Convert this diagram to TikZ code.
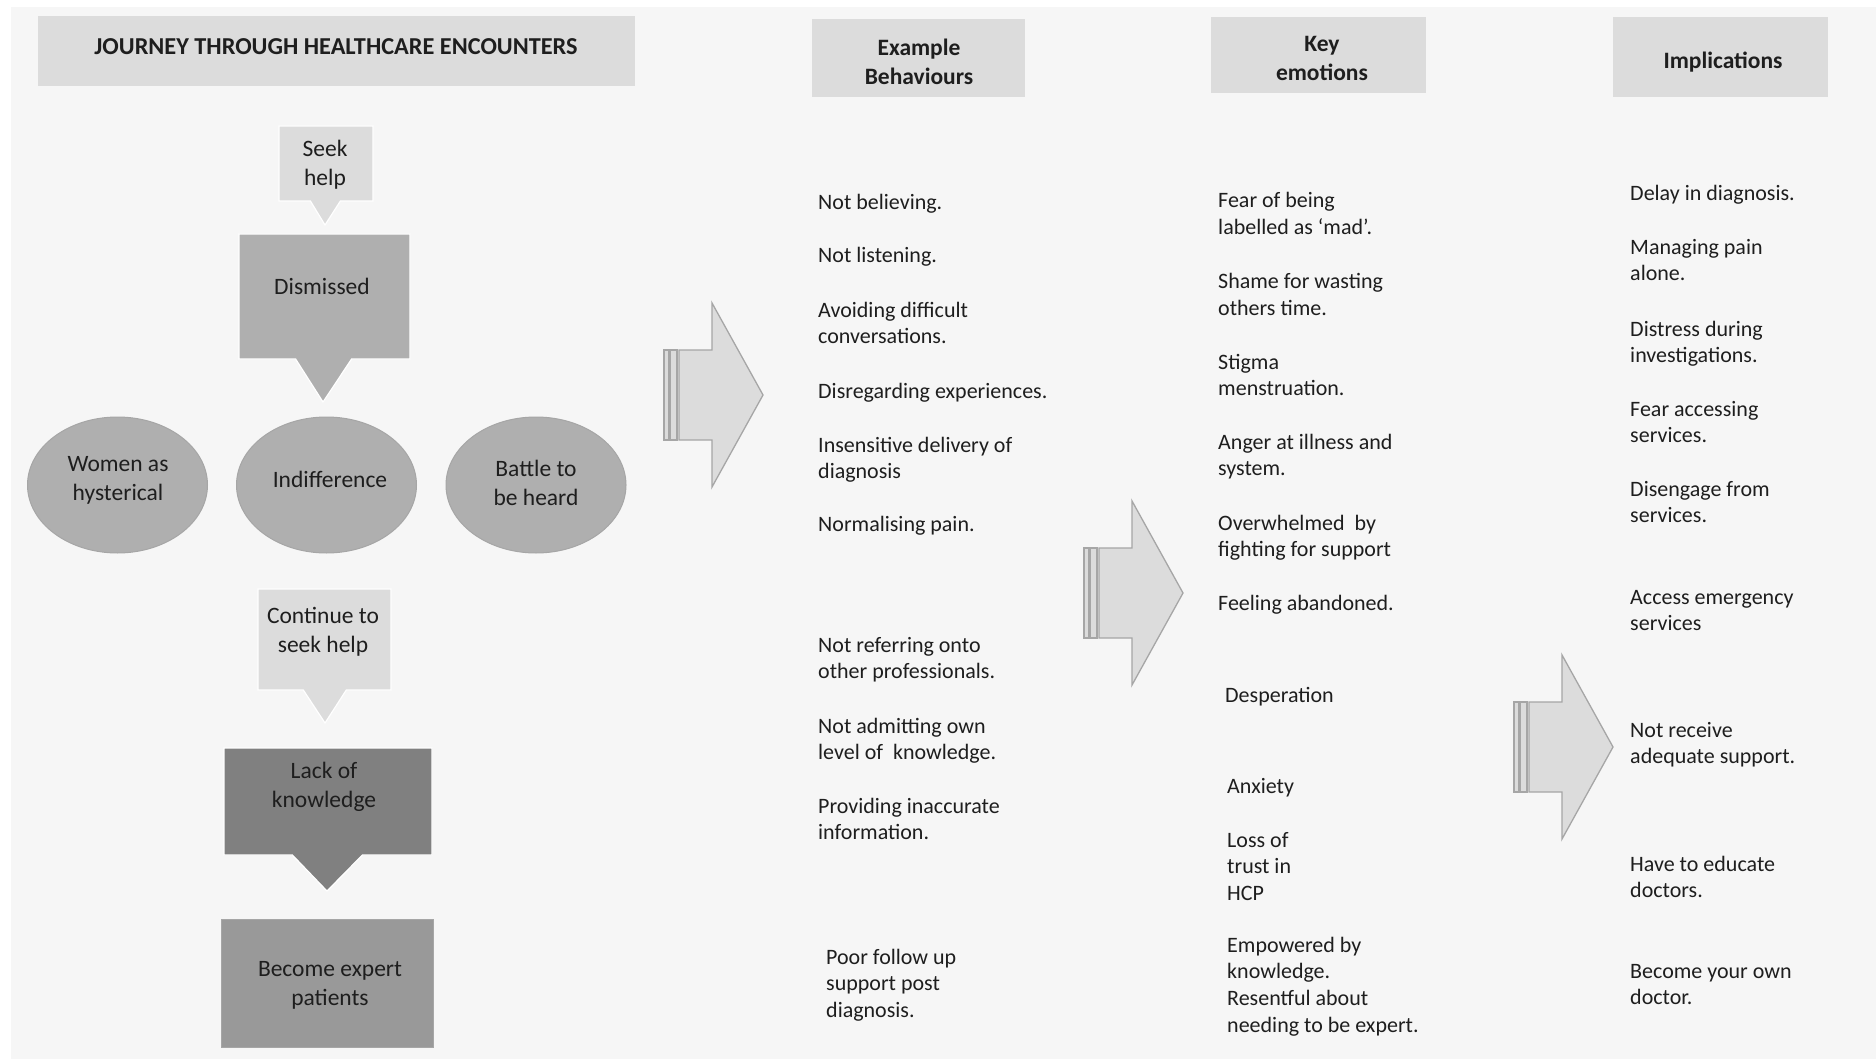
\documentclass[tikz,border=0pt]{standalone}
\usepackage{fontspec}
\setmainfont{Carlito}
\usetikzlibrary{shapes.geometric,shapes.callouts}
\definecolor{bgc}{HTML}{F6F6F6}
\definecolor{hdrc}{HTML}{DCDCDC}
\definecolor{midc}{HTML}{AFAFAF}
\definecolor{darkc}{HTML}{808080}
\definecolor{expc}{HTML}{999999}
\definecolor{edgec}{HTML}{A6A6A6}
\definecolor{txt}{HTML}{1E1E1E}
\tikzset{
  hdrbox/.style={fill=hdrc, draw=none},
  lst/.style={anchor=base west, align=left, inner sep=0pt, text=txt, font=\fontsize{22}{26.8}\selectfont},
  shptxt/.style={anchor=base, align=center, inner sep=0pt, text=txt, font=\fontsize{23.5}{29}\selectfont},
  hdrtxt/.style={anchor=base, align=center, inner sep=0pt, text=txt, font=\fontsize{23.5}{29}\selectfont\bfseries},
  callbox/.style={rectangle callout, inner sep=0pt, draw=white, line width=1.2pt},
  oval/.style={ellipse, fill=midc, draw=edgec, line width=1pt, minimum width=180, minimum height=136, inner sep=0pt},
  arr/.style={fill=hdrc, draw=edgec, line width=1.3pt, line join=miter}
}
\newcommand\stripearrow[2]{%
  \draw[arr] (#1,#2-45) rectangle (#1+4.5,#2+45);
  \draw[arr] (#1+6,#2-45) rectangle (#1+13,#2+45);
  \draw[arr] (#1+15,#2-45) -- (#1+48,#2-45) -- (#1+48,#2-92) -- (#1+99,#2)
     -- (#1+48,#2+92) -- (#1+48,#2+45) -- (#1+15,#2+45) -- cycle;
}
\begin{document}
\begin{tikzpicture}[x=1pt,y=-1pt]
\useasboundingbox (0,0) rectangle (1876,1059);
\fill[bgc] (11,7) rectangle (1876,1059);

% header boxes
\fill[hdrbox] (38,16) rectangle (635,86);
\node[hdrtxt, font=\fontsize{24.3}{29}\selectfont\bfseries] (title) at (336,54.5) {JOURNEY THROUGH HEALTHCARE ENCOUNTERS};
\fill[hdrbox] (812,19) rectangle (1025,97);
\node[hdrtxt] (hbeh) at (919,85) {Example\\Behaviours};
\fill[hdrbox] (1211,17) rectangle (1426,93);
\node[hdrtxt] (hemo) at (1322,81) {Key\\emotions};
\fill[hdrbox] (1613,17) rectangle (1828,97);
\node[hdrtxt] (himp) at (1723,68.5) {Implications};

% journey column
\node[callbox, fill=hdrc, minimum width=94, minimum height=75,
      callout absolute pointer={(325,225)}, callout pointer width=30] (seek) at (326,163.5) {};
\node[shptxt] (seekt) at (325,185.5) {Seek\\help};

\node[callbox, fill=midc, minimum width=171, minimum height=125,
      callout absolute pointer={(323,402)}, callout pointer width=56] (dism) at (324.5,296.5) {};
\node[shptxt] (dismt) at (322,294.5) {Dismissed};

\node[oval] (women) at (117.5,485) {};
\node[shptxt] (woment) at (118,500.5) {Women as\\hysterical};
\node[oval] (indiff) at (326.5,485) {};
\node[shptxt] (indifft) at (330,487.5) {Indifference};
\node[oval] (battle) at (536,485) {};
\node[shptxt] (battlet) at (536,505.5) {Battle to\\be heard};

\node[callbox, fill=hdrc, minimum width=133, minimum height=101,
      callout absolute pointer={(325,723)}, callout pointer width=43] (cont) at (324.5,639.5) {};
\node[shptxt] (contt) at (323,652.5) {Continue to\\seek help};

\node[callbox, fill=darkc, minimum width=208, minimum height=107,
      callout absolute pointer={(327,891)}, callout pointer width=70] (lack) at (328,801.5) {};
\node[shptxt] (lackt) at (324,807.5) {Lack of\\knowledge};

\node[rectangle, fill=expc, draw=edgec, line width=1pt, minimum width=212, minimum height=128, inner sep=0pt] (expert) at (327,983) {};
\node[shptxt] (expertt) at (330,1005.5) {Become expert\\patients};

% arrows
\stripearrow{664}{395}
\stripearrow{1084}{593}
\stripearrow{1514}{747}

% behaviours
\node[lst] (b1) at (818,210) {Not believing.};
\node[lst] (b2) at (818,263) {Not listening.};
\node[lst] (b3) at (818,343.8) {Avoiding difficult\\conversations.};
\node[lst] (b4) at (818,398) {Disregarding experiences.};
\node[lst] (b5) at (818,478.8) {Insensitive delivery of\\diagnosis};
\node[lst] (b6) at (818,531) {Normalising pain.};
\node[lst] (b7) at (818,678.8) {Not referring onto\\other professionals.};
\node[lst] (b8) at (818,759.8) {Not admitting own\\level of\ \ knowledge.};
\node[lst] (b9) at (818,839.8) {Providing inaccurate\\information.};
\node[lst] (b10) at (826,1017.6) {Poor follow up\\support post\\diagnosis.};

% emotions
\node[lst] (e1) at (1218,234.8) {Fear of being\\labelled as ‘mad’.};
\node[lst] (e2) at (1218,315.8) {Shame for wasting\\others time.};
\node[lst] (e3) at (1218,395.8) {Stigma\\menstruation.};
\node[lst] (e4) at (1218,475.8) {Anger at illness and\\system.};
\node[lst] (e5) at (1218,556.8) {Overwhelmed\ \ by\\fighting for support};
\node[lst] (e6) at (1218,610) {Feeling abandoned.};
\node[lst] (e7) at (1225,702) {Desperation};
\node[lst] (e8) at (1227,793) {Anxiety};
\node[lst] (e9) at (1227,900.6) {Loss of\\trust in\\HCP};
\node[lst] (e10) at (1227,1032.4) {Empowered by\\knowledge.\\Resentful about\\needing to be expert.};

% implications
\node[lst] (i1) at (1630,201) {Delay in diagnosis.};
\node[lst] (i2) at (1630,280.8) {Managing pain\\alone.};
\node[lst] (i3) at (1630,362.8) {Distress during\\investigations.};
\node[lst] (i4) at (1630,442.8) {Fear accessing\\services.};
\node[lst] (i5) at (1630,522.8) {Disengage from\\services.};
\node[lst] (i6) at (1630,630.8) {Access emergency\\services};
\node[lst] (i7) at (1630,763.8) {Not receive\\adequate support.};
\node[lst] (i8) at (1630,897.8) {Have to educate\\doctors.};
\node[lst] (i9) at (1630,1004.8) {Become your own\\doctor.};
\end{tikzpicture}
\end{document}
